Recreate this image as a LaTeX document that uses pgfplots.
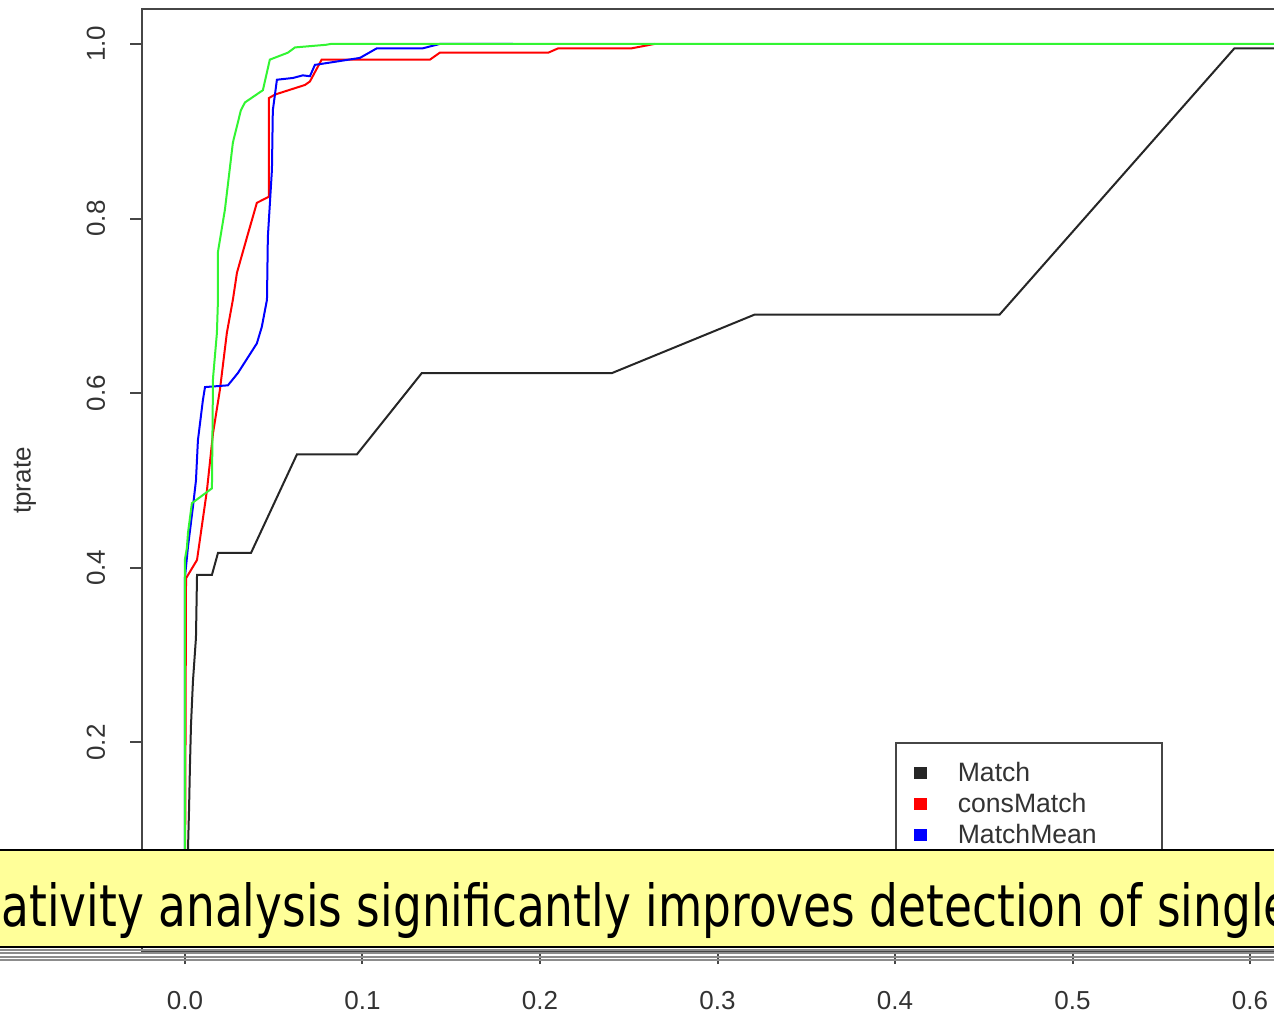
\documentclass[border=0pt]{standalone}
\usepackage{pgfplots}
\pgfplotsset{compat=1.18}
\usepackage{fontspec}
\usepackage{graphicx}
\setmainfont{Liberation Sans}
\newfontfamily\bannerfont{DejaVu Sans}
\definecolor{bannery}{RGB}{255,255,153}
\definecolor{rgreen}{RGB}{50,245,50}
\definecolor{boxgrey}{RGB}{70,70,70}
\definecolor{linegrey}{RGB}{140,140,140}
\begin{document}
\begin{tikzpicture}
\fill[white] (0pt,0pt) rectangle (637pt,507pt);
\begin{scope}
\clip (0pt,0pt) rectangle (637pt,507pt);
\begin{axis}[
  at={(71pt,31pt)}, anchor=south west,
  scale only axis, width=575.5pt, height=471.5pt,
  xmin=-0.0242, xmax=0.6242, ymin=-0.04, ymax=1.04,
  axis line style={draw=boxgrey, line width=1pt},
  tick pos=left, tick align=outside, major tick length=6pt,
  tick style={boxgrey, line width=1pt},
  xtick={0,0.1,0.2,0.3,0.4,0.5,0.6},
  xticklabels={0.0,0.1,0.2,0.3,0.4,0.5,0.6},
  ytick={0,0.2,0.4,0.6,0.8,1.0},
  yticklabels={0.0,0.2,0.4,0.6,0.8,1.0},
  xticklabel style={anchor=center, font=\fontsize{13}{15}\selectfont, text=black!80},
  yticklabel style={rotate=90, anchor=center, font=\fontsize{13}{15}\selectfont, text=black!80},
  xticklabel shift=18.5pt, yticklabel shift=17pt,
  ylabel={tprate},
  every axis y label/.style={at={(axis description cs:-0.1017,0.5)}, rotate=90, anchor=center, font=\fontsize{13}{15}\selectfont, text=black!80},
  legend style={at={(axis cs:0.4,0.2)}, anchor=north west, draw=boxgrey, line width=0.8pt, fill=white,
     inner xsep=0pt, inner ysep=8.5pt, row sep=2.3pt, font=\fontsize{13.3}{15}\selectfont, text=black!80,
     nodes={inner xsep=0pt, inner ysep=1pt}},
  legend cell align=left,
  legend image code/.code={\path[draw=none,fill=none] (0pt,0pt) -- (31pt,0pt); \fill[#1, draw=none] (9pt,-3pt) rectangle (15.5pt,3pt);},
]
\addplot[black!85, line width=1pt] coordinates {
(0,0) (0.0017,0.077) (0.0023,0.123) (0.0028,0.172) (0.0034,0.220) (0.0045,0.270) (0.0062,0.320) (0.0068,0.392) (0.0152,0.392) (0.0186,0.417) (0.0372,0.417) (0.0631,0.530) (0.0969,0.530) (0.1334,0.623) (0.2405,0.623) (0.3209,0.690) (0.4589,0.690) (0.5912,0.995) (0.62,0.995)};
\addlegendentry{\makebox[102pt][l]{Match}}
\addplot[red, line width=1pt] coordinates {
(0,0) (0.0006,0.388) (0.0068,0.409) (0.0124,0.489) (0.0158,0.554) (0.0197,0.604) (0.0236,0.669) (0.0270,0.707) (0.0293,0.738) (0.0350,0.779) (0.0405,0.818) (0.0473,0.825) (0.0473,0.938) (0.0507,0.942) (0.0676,0.953) (0.0704,0.957) (0.0770,0.982) (0.1380,0.982) (0.1436,0.990) (0.2047,0.990) (0.2103,0.995) (0.2517,0.995) (0.2646,1.0)};
\addlegendentry{\makebox[102pt][l]{consMatch}}
\addplot[blue, line width=1pt] coordinates {
(0,0) (0,0.389) (0.0017,0.424) (0.0045,0.470) (0.0062,0.500) (0.0073,0.546) (0.0101,0.592) (0.0113,0.607) (0.0242,0.609) (0.0298,0.623) (0.0405,0.657) (0.0433,0.676) (0.0462,0.707) (0.0467,0.779) (0.0490,0.856) (0.0495,0.924) (0.0507,0.942) (0.0518,0.959) (0.0608,0.961) (0.0664,0.964) (0.0704,0.963) (0.0732,0.976) (0.0828,0.979) (0.0986,0.984) (0.1081,0.995) (0.1340,0.995) (0.1436,1.0) (0.1847,1.0)};
\addlegendentry{\makebox[102pt][l]{MatchMean}}
\addplot[rgreen, line width=1pt] coordinates {
(0,0) (0,0.41) (0.0011,0.423) (0.0017,0.440) (0.0039,0.474) (0.0152,0.491) (0.0158,0.617) (0.0180,0.669) (0.0186,0.707) (0.0186,0.762) (0.0225,0.810) (0.0270,0.887) (0.0315,0.924) (0.0338,0.933) (0.0439,0.947) (0.0478,0.982) (0.0580,0.990) (0.0620,0.996) (0.0794,0.999) (0.0822,1.0) (0.625,1.0)};
\end{axis}
\fill[bannery] (0pt,33pt) rectangle (637pt,82pt);
\draw[black, line width=1pt] (0pt,82pt) -- (637pt,82pt);
\draw[black, line width=1.2pt] (0pt,33.4pt) -- (637pt,33.4pt);
\foreach \yy in {32.1,30.4,28.7,26.9} {\draw[linegrey, line width=0.9pt] (0pt,\yy pt) -- (637pt,\yy pt);}
\node[anchor=base west, inner sep=0pt] at (0.5pt,44pt) {\resizebox{645pt}{22pt}{\bannerfont ativity analysis significantly improves detection of single}};
\end{scope}
\pgfresetboundingbox
\path[use as bounding box] (0pt,0pt) rectangle (637pt,507pt);
\end{tikzpicture}
\end{document}
